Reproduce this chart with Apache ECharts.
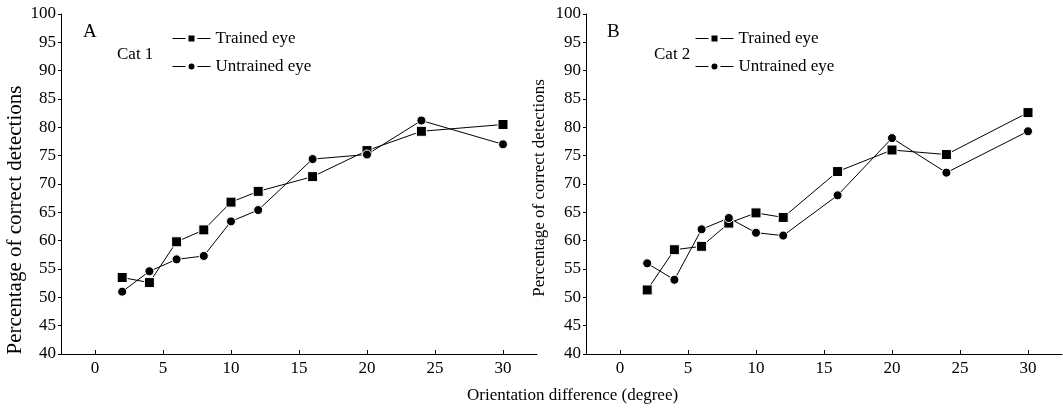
<!DOCTYPE html>
<html>
<head>
<meta charset="utf-8">
<script src="https://cdn.jsdelivr.net/npm/echarts@6/dist/echarts.min.js"></script>
<style>
html,body{margin:0;padding:0;background:#fff;}
#chart{width:1063px;height:409px;}
</style>
</head>
<body>
<div id="chart"></div>
<script>
// ---- data ----
const orientations = [2, 4, 6, 8, 10, 12, 16, 20, 24, 30];
const xTickValues = [0, 5, 10, 15, 20, 25, 30];
const trainedCat1 = [53.5, 52.6, 59.8, 61.9, 66.8, 68.7, 71.3, 75.9, 79.3, 80.5];
const untrainedCat1 = [51.0, 54.6, 56.7, 57.3, 63.4, 65.4, 74.4, 75.2, 81.2, 77.0];
const trainedCat2 = [51.3, 58.4, 59.0, 63.1, 64.9, 64.1, 72.2, 76.0, 75.2, 82.6];
const untrainedCat2 = [56.0, 53.1, 62.0, 64.0, 61.4, 60.9, 68.0, 78.1, 72.0, 79.3];
const seriesNames = ['Trained eye', 'Untrained eye'];
const panelLetters = ['A', 'B'];
const catLabels = ['Cat 1', 'Cat 2'];
const xTitle = 'Orientation difference (degree)';
const yTitle = 'Percentage of correct detections';

const FONT = '"Liberation Serif", "Times New Roman", serif';
const pairs = (ys) => orientations.map((x, i) => [x, ys[i]]);

function xAxisFor(gi) {
  return {
    type: 'value', gridIndex: gi, min: -2.5, max: 32.5,
    axisLine: {show: true, onZero: false, lineStyle: {color: '#000', width: 1}},
    axisTick: {show: true, inside: true, length: 4, customValues: xTickValues, lineStyle: {color: '#000'}},
    axisLabel: {customValues: xTickValues, fontFamily: FONT, fontSize: 17, color: '#000', margin: 6},
    splitLine: {show: false}
  };
}
function yAxisFor(gi) {
  return {
    type: 'value', gridIndex: gi, min: 40, max: 100, interval: 5,
    axisLine: {show: true, onZero: false, lineStyle: {color: '#000', width: 1}},
    axisTick: {show: true, length: 3, lineStyle: {color: '#000'}},
    axisLabel: {fontFamily: FONT, fontSize: 17, color: '#000', margin: 5},
    splitLine: {show: false}
  };
}
function lineSeries(name, data, gi, symbol, size) {
  return {
    type: 'line', name: name, xAxisIndex: gi, yAxisIndex: gi,
    data: pairs(data), symbol: symbol, symbolSize: size,
    lineStyle: {color: '#000', width: 1},
    itemStyle: {color: '#000', borderColor: '#fff', borderWidth: 1},
    emphasis: {disabled: true}, animation: false
  };
}
function legendFor(left) {
  return {
    left: left, top: 30, orient: 'vertical', padding: 0,
    itemWidth: 38, itemHeight: 10, itemGap: 11, selectedMode: false,
    data: seriesNames,
    lineStyle: {type: [13, 12], width: 1, color: '#000'},
    textStyle: {fontFamily: FONT, fontSize: 17, color: '#000', lineHeight: 17}
  };
}
const titleStyle = (size) => ({fontFamily: FONT, fontSize: size, fontWeight: 'normal', color: '#000'});

const chart = echarts.init(document.getElementById('chart'), null, {renderer: 'canvas'});
chart.setOption({
  backgroundColor: '#fff',
  animation: false,
  grid: [
    {left: 61, top: 14, width: 476, height: 340},
    {left: 586, top: 14, width: 476, height: 340}
  ],
  xAxis: [xAxisFor(0), xAxisFor(1)],
  yAxis: [yAxisFor(0), yAxisFor(1)],
  series: [
    lineSeries(seriesNames[0], trainedCat1, 0, 'rect', 10),
    lineSeries(seriesNames[1], untrainedCat1, 0, 'circle', 9),
    lineSeries(seriesNames[0], trainedCat2, 1, 'rect', 10),
    lineSeries(seriesNames[1], untrainedCat2, 1, 'circle', 9)
  ],
  legend: [legendFor(172), legendFor(695)],
  title: [
    {text: panelLetters[0], left: 83, top: 23, padding: 0, textStyle: titleStyle(19)},
    {text: catLabels[0], left: 117, top: 46, padding: 0, textStyle: titleStyle(17)},
    {text: panelLetters[1], left: 607, top: 23, padding: 0, textStyle: titleStyle(19)},
    {text: catLabels[1], left: 654, top: 46, padding: 0, textStyle: titleStyle(17)},
    {text: xTitle, left: 467, top: 387, padding: 0, textStyle: titleStyle(17)}
  ],
  graphic: [
    {type: 'text', x: 15, y: 220, rotation: Math.PI / 2,
     style: {text: yTitle, fontFamily: FONT, fontSize: 21, fill: '#000', align: 'center', verticalAlign: 'middle'}},
    {type: 'text', x: 540, y: 188, rotation: Math.PI / 2,
     style: {text: yTitle, fontFamily: FONT, fontSize: 17, fill: '#000', align: 'center', verticalAlign: 'middle'}}
  ]
});
</script>
</body>
</html>
